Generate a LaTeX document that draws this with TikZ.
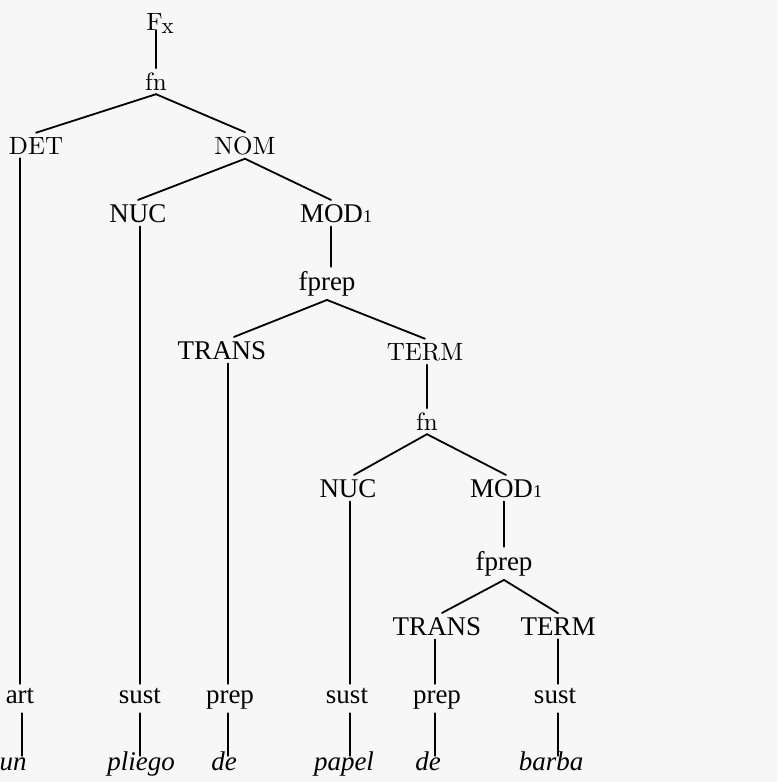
\documentclass[tikz,border=0pt]{standalone}
\usepackage{fontspec}
\newfontfamily\gar{Liberation Serif}
\newfontfamily\cmten{lmroman10-regular.otf}
\begin{document}
\begin{tikzpicture}[x=1pt,y=-1pt,
  cmlbl/.style={font=\cmten\fontsize{25}{30}\selectfont, inner sep=4pt, anchor=base},
  garlbl/.style={font=\gar\fontsize{27}{32}\selectfont, inner sep=4pt, anchor=base},
  poslbl/.style={garlbl, text height=15pt, text depth=6pt},
  wordlbl/.style={font=\gar\itshape\fontsize{27}{32}\selectfont, inner sep=2pt, anchor=base, text height=12pt},
  link/.style={line width=1.8pt, line cap=round}]
\fill[black!3] (0,0) rectangle (777,782);
\useasboundingbox (0,0) rectangle (777,782);
\newcommand{\subone}{{\fontsize{18}{18}\selectfont 1}}
% nodes
\node[cmlbl] (Fx) at (160,30) {F\kern-1pt\raisebox{-3pt}{\fontsize{23}{23}\selectfont x}};
\node[cmlbl] (fnA) at (156,90) {fn};
\node[cmlbl] (DET) at (36,154) {DET};
\node[cmlbl] (NOM) at (245,154) {NOM};
\node[garlbl] (NUCa) at (138,222) {NUC};
\node[garlbl] (MODa) at (336,222) {MOD\subone};
\node[garlbl] (fprepA) at (327,290) {fprep};
\node[garlbl] (TRANSa) at (222,359) {TRANS};
\node[cmlbl] (TERMa) at (425,360) {TERM};
\node[cmlbl] (fnB) at (427,430) {fn};
\node[garlbl] (NUCb) at (348,497) {NUC};
\node[garlbl] (MODb) at (506,497) {MOD\subone};
\node[garlbl] (fprepB) at (504,570) {fprep};
\node[garlbl] (TRANSb) at (437,635) {TRANS};
\node[garlbl] (TERMb) at (558,635) {TERM};
\node[poslbl] (art) at (20,703) {art};
\node[poslbl] (sustA) at (140,703) {sust};
\node[poslbl] (prepA) at (230,703) {prep};
\node[poslbl] (sustB) at (347,703) {sust};
\node[poslbl] (prepB) at (437,703) {prep};
\node[poslbl] (sustC) at (555,703) {sust};
\node[wordlbl] (un) at (13,770) {un};
\node[wordlbl] (pliego) at (141,770) {pliego};
\node[wordlbl] (deA) at (224,770) {de};
\node[wordlbl] (papel) at (344,770) {papel};
\node[wordlbl] (deB) at (428,770) {de};
\node[wordlbl] (barba) at (551,770) {barba};
% connectors
\draw[link] (fnA.north) -- (fnA.north |- Fx.base);
\draw[link] (fnA.south) -- (DET.north);
\draw[link] (fnA.south) -- (NOM.north);
\draw[link] (art.north) -- (art.north |- DET.south);
\draw[link] (NOM.south) -- (NUCa.north);
\draw[link] (NOM.south) -- ([xshift=-5pt]MODa.north);
\draw[link] (sustA.north) -- (sustA.north |- NUCa.south);
\draw[link] ([xshift=4pt]fprepA.north) -- ([xshift=4pt]fprepA.north |- MODa.south);
\draw[link] (fprepA.south) -- ([xshift=12pt]TRANSa.north);
\draw[link] (fprepA.south) -- (TERMa.north);
\draw[link] ([xshift=-2pt]prepA.north) -- ([xshift=-2pt]prepA.north |- TRANSa.south);
\draw[link] (fnB.north) -- (fnB.north |- TERMa.south);
\draw[link] (fnB.south) -- ([xshift=6pt]NUCb.north);
\draw[link] (fnB.south) -- (MODb.north);
\draw[link] ([xshift=3pt]sustB.north) -- ([xshift=3pt]sustB.north |- NUCb.south);
\draw[link] (fprepB.north) -- (fprepB.north |- MODb.south);
\draw[link] (fprepB.south) -- ([xshift=5pt]TRANSb.north);
\draw[link] (fprepB.south) -- (TERMb.north);
\draw[link] ([xshift=-2pt]prepB.north) -- ([xshift=-2pt]prepB.north |- TRANSb.south);
\draw[link] ([xshift=3pt]sustC.north) -- ([xshift=3pt]sustC.north |- TERMb.south);
\draw[link] ([xshift=2pt]art.south) -- ([xshift=2pt]art.south |- un.north);
\draw[link] (sustA.south) -- (sustA.south |- pliego.north);
\draw[link] ([xshift=-2pt]prepA.south) -- ([xshift=-2pt]prepA.south |- deA.north);
\draw[link] ([xshift=3pt]sustB.south) -- ([xshift=3pt]sustB.south |- papel.north);
\draw[link] ([xshift=-2pt]prepB.south) -- ([xshift=-2pt]prepB.south |- deB.north);
\draw[link] ([xshift=3pt]sustC.south) -- ([xshift=3pt]sustC.south |- barba.north);
\end{tikzpicture}
\end{document}
